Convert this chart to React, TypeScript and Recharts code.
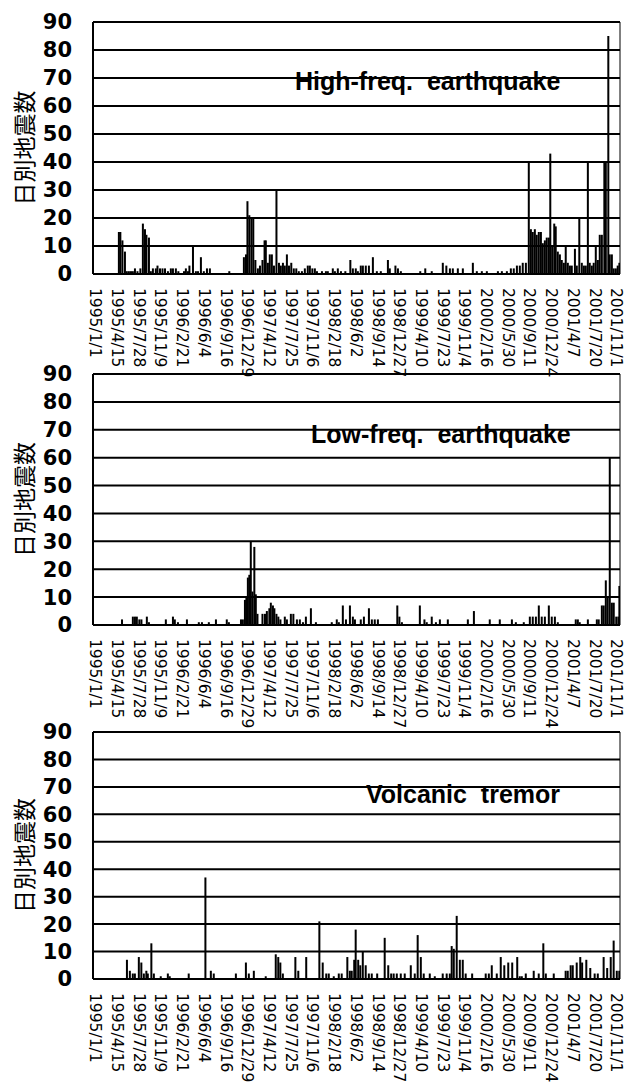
import React from 'react';
import { BarChart, Bar, XAxis, YAxis, CartesianGrid, ReferenceLine } from 'recharts';

// x axis: day index counted from 1995/1/1, a label every 104 days
const tickLabels = [
    '1995/1/1', '1995/4/15', '1995/7/28', '1995/11/9', '1996/2/21', '1996/6/4', '1996/9/16',
    '1996/12/29', '1997/4/12', '1997/7/25', '1997/11/6', '1998/2/18', '1998/6/2', '1998/9/14',
    '1998/12/27', '1999/4/10', '1999/7/23', '1999/11/4', '2000/2/16', '2000/5/30', '2000/9/11',
    '2000/12/24', '2001/4/7', '2001/7/20', '2001/11/1',
];
const tickStep = 104;
const tickDays = tickLabels.map((_, i) => i * tickStep);
const yTicks = [0, 10, 20, 30, 40, 50, 60, 70, 80, 90];

// [day, daily count]
const highFreq: [number, number][] = [
    [110, 15], [117, 15], [127, 12], [139, 8], [148, 1], [158, 1], [168, 1], [177, 1], [187, 2], [199, 1],
    [213, 2], [225, 18], [235, 16], [242, 14], [254, 13], [263, 1], [273, 2], [287, 2], [295, 3], [307, 2],
    [319, 2], [331, 2], [345, 1], [359, 2], [369, 2], [383, 2], [395, 1], [422, 1], [431, 2], [441, 1],
    [448, 3], [465, 10], [479, 1], [489, 1], [503, 6], [517, 1], [532, 2], [546, 2], [639, 1], [709, 6],
    [719, 7], [726, 26], [735, 21], [745, 20], [754, 20], [764, 5], [776, 2], [786, 3], [798, 5], [808, 12],
    [814, 12], [824, 4], [833, 7], [843, 7], [853, 3], [865, 30], [877, 4], [886, 3], [896, 4], [905, 3],
    [915, 7], [925, 3], [936, 4], [948, 2], [960, 2], [972, 1], [987, 1], [1001, 2], [1015, 3], [1025, 3],
    [1037, 2], [1049, 2], [1059, 1], [1083, 1], [1102, 1], [1111, 1], [1135, 2], [1145, 1], [1159, 2], [1174, 1],
    [1195, 1], [1219, 5], [1231, 2], [1245, 2], [1255, 1], [1269, 3], [1279, 3], [1293, 3], [1308, 3], [1327, 6],
    [1346, 1], [1365, 1], [1399, 5], [1408, 2], [1435, 3], [1447, 2], [1461, 1], [1554, 1], [1578, 2], [1609, 1],
    [1662, 4], [1679, 3], [1696, 2], [1710, 2], [1734, 2], [1758, 2], [1806, 4], [1825, 1], [1849, 1], [1873, 1],
    [1926, 1], [1945, 1], [1969, 1], [1988, 2], [2002, 2], [2017, 3], [2031, 3], [2045, 4], [2060, 4], [2074, 40],
    [2084, 16], [2093, 15], [2103, 16], [2112, 14], [2122, 15], [2132, 15], [2141, 11], [2151, 12], [2160, 13], [2170, 13],
    [2177, 43], [2186, 10], [2196, 18], [2203, 17], [2213, 8], [2223, 7], [2232, 5], [2242, 4], [2251, 10], [2261, 4],
    [2271, 3], [2280, 3], [2295, 9], [2304, 3], [2316, 20], [2328, 4], [2338, 3], [2347, 3], [2357, 40], [2366, 4],
    [2376, 3], [2385, 4], [2395, 10], [2405, 5], [2414, 14], [2424, 14], [2436, 40], [2443, 40], [2455, 85], [2462, 7],
    [2472, 7], [2481, 2], [2491, 2], [2500, 3], [2508, 4],
];

const lowFreq: [number, number][] = [
    [125, 2], [177, 3], [187, 3], [196, 3], [208, 2], [218, 2], [244, 3], [254, 1], [335, 2], [369, 3],
    [378, 2], [393, 1], [436, 2], [493, 1], [508, 1], [541, 1], [575, 2], [627, 2], [637, 1], [695, 2],
    [704, 2], [714, 9], [721, 10], [728, 17], [735, 18], [742, 30], [750, 12], [759, 28], [766, 11], [774, 4],
    [798, 4], [810, 4], [819, 5], [831, 6], [838, 8], [848, 7], [855, 6], [865, 4], [874, 3], [884, 2],
    [905, 3], [915, 2], [934, 4], [946, 4], [963, 2], [977, 2], [992, 1], [1006, 3], [1030, 6], [1054, 1],
    [1130, 1], [1154, 2], [1164, 1], [1183, 7], [1198, 2], [1217, 7], [1231, 3], [1241, 2], [1269, 2], [1284, 3],
    [1308, 6], [1322, 2], [1336, 2], [1351, 2], [1444, 7], [1454, 3], [1466, 1], [1552, 7], [1574, 2], [1585, 1],
    [1609, 3], [1629, 1], [1648, 2], [1686, 2], [1782, 2], [1811, 5], [1887, 2], [1935, 2], [1993, 2], [2012, 1],
    [2050, 1], [2079, 3], [2093, 3], [2108, 3], [2122, 7], [2136, 3], [2151, 3], [2170, 7], [2184, 3], [2199, 3],
    [2213, 1], [2299, 2], [2309, 2], [2318, 1], [2357, 2], [2400, 2], [2409, 2], [2424, 7], [2433, 7], [2443, 16],
    [2452, 10], [2462, 60], [2472, 8], [2481, 8], [2493, 3], [2503, 3], [2508, 14],
];

const tremor: [number, number][] = [
    [149, 7], [163, 3], [177, 2], [187, 2], [206, 8], [218, 6], [230, 2], [242, 3], [249, 2], [266, 13],
    [278, 2], [311, 1], [345, 2], [354, 1], [445, 2], [525, 37], [551, 3], [565, 2], [671, 2], [719, 6],
    [733, 2], [757, 3], [814, 1], [862, 9], [874, 8], [884, 6], [896, 2], [956, 8], [970, 3], [1008, 8],
    [1071, 21], [1087, 6], [1104, 2], [1116, 2], [1140, 1], [1164, 2], [1178, 2], [1205, 8], [1217, 3], [1226, 3],
    [1238, 7], [1245, 18], [1257, 7], [1267, 5], [1279, 10], [1293, 5], [1308, 2], [1322, 2], [1348, 2], [1384, 15],
    [1401, 5], [1415, 2], [1427, 2], [1442, 2], [1461, 2], [1480, 2], [1509, 5], [1528, 2], [1542, 16], [1557, 8],
    [1571, 2], [1600, 2], [1624, 1], [1662, 2], [1681, 2], [1696, 2], [1705, 12], [1715, 11], [1729, 23], [1744, 7],
    [1758, 7], [1772, 2], [1803, 2], [1868, 2], [1883, 2], [1897, 5], [1921, 2], [1940, 8], [1957, 5], [1976, 6],
    [1995, 6], [2019, 8], [2031, 1], [2041, 1], [2060, 2], [2098, 3], [2122, 2], [2144, 13], [2156, 2], [2194, 2],
    [2251, 3], [2261, 3], [2275, 5], [2285, 5], [2304, 6], [2321, 8], [2330, 6], [2350, 7], [2369, 4], [2390, 2],
    [2405, 2], [2433, 8], [2450, 4], [2467, 8], [2481, 14], [2496, 3], [2508, 3],
];

const DAY_MIN = -14;
const DAY_MAX = 2511;
const CHART_W = 628;
const PAD_TOP = 21;
const AXIS_H = 110;

function DateTick(props: any) {
    const { x, y, payload } = props;
    const label = tickLabels[Math.round(payload.value / tickStep)];
    return (
        <text
            transform={`translate(${x},${y}) rotate(90)`}
            textAnchor="start"
            dy="0.36em"
            fontSize={15.5}
            fontFamily="DejaVu Sans"
            fill="#000"
        >
            {label}
        </text>
    );
}

function YTitle({ cy }: { cy: number }) {
    return (
        <text
            x={23}
            y={cy}
            transform={`rotate(-90, 23, ${cy})`}
            textAnchor="middle"
            dominantBaseline="central"
            fontSize={23}
            fontFamily="Noto Sans CJK JP"
            fill="#000"
        >
            日別地震数
        </text>
    );
}

function Spike(props: any) {
    const { x, y, width, height } = props;
    if (!height || height <= 0) return null;
    return <rect x={x + width / 2 - 1} y={y} width={2} height={height} fill="#000" />;
}

interface PanelProps {
    series: [number, number][];
    top: number;
    plotHeight: number;
    caption: string;
    captionX: number;
    captionY: number;
}

function Panel({ series, top, plotHeight, caption, captionX, captionY }: PanelProps) {
    const rows = series.map(([day, count]) => ({ day, count }));
    const height = PAD_TOP + plotHeight + AXIS_H;
    return (
        <div style={{ position: 'absolute', left: 0, top: top - PAD_TOP, width: CHART_W, height }}>
            <BarChart
                width={CHART_W}
                height={height}
                data={rows}
                margin={{ top: PAD_TOP, right: 8, bottom: 0, left: 0 }}
                style={{ overflow: 'visible' }}
            >
                <CartesianGrid vertical={false} stroke="#000" strokeWidth={2} />
                <XAxis
                    dataKey="day"
                    type="number"
                    domain={[DAY_MIN, DAY_MAX]}
                    ticks={tickDays}
                    interval={0}
                    allowDataOverflow
                    height={AXIS_H}
                    tickLine={false}
                    tickSize={0}
                    tickMargin={14}
                    axisLine={{ stroke: '#000', strokeWidth: 2 }}
                    tick={<DateTick />}
                />
                <YAxis
                    domain={[0, 90]}
                    ticks={yTicks}
                    interval={0}
                    width={93}
                    tickLine={false}
                    tickSize={0}
                    tickMargin={21}
                    axisLine={{ stroke: '#000', strokeWidth: 2 }}
                    tick={{ fill: '#000', fontSize: 21, fontWeight: 'bold', fontFamily: 'DejaVu Sans' }}
                    label={<YTitle cy={PAD_TOP + plotHeight / 2} />}
                />
                <ReferenceLine x={DAY_MAX} stroke="#000" strokeWidth={1} />
                <Bar dataKey="count" fill="#000" isAnimationActive={false} shape={<Spike />} />
            </BarChart>
            <svg
                width={CHART_W}
                height={height}
                style={{ position: 'absolute', left: 0, top: 0, pointerEvents: 'none' }}
            >
                <text
                    x={captionX}
                    y={captionY - (top - PAD_TOP)}
                    fontSize={25}
                    fontWeight="bold"
                    fontFamily="Liberation Sans"
                    fill="#000"
                    style={{ whiteSpace: 'pre' }}
                >
                    {caption}
                </text>
            </svg>
        </div>
    );
}

export default function App() {
    return (
        <div style={{ position: 'absolute', left: 0, top: 0, width: 628, height: 1085, background: '#fff' }}>
            <Panel series={highFreq} top={21.5} plotHeight={252} caption="High-freq.  earthquake" captionX={295} captionY={89} />
            <Panel series={lowFreq} top={374} plotHeight={251} caption="Low-freq.  earthquake" captionX={311} captionY={443} />
            <Panel series={tremor} top={732} plotHeight={247} caption="Volcanic  tremor" captionX={366} captionY={803} />
        </div>
    );
}
